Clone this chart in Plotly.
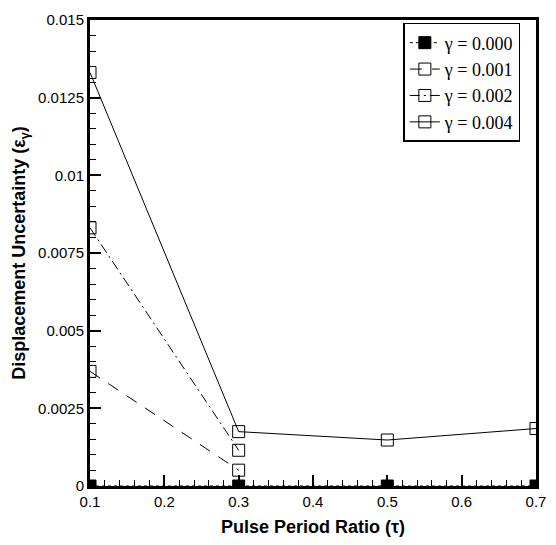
import plotly.graph_objects as go

# ---- data ----
tau = [0.1, 0.3, 0.5, 0.7]
eps_g0000 = [0.0, 0.0, 0.0, 0.0]
tau_g0001 = [0.1, 0.3]
eps_g0001 = [0.00369, 0.00051]
tau_g0002 = [0.1, 0.3]
eps_g0002 = [0.00831, 0.00115]
eps_g0004 = [0.01331, 0.00175, 0.00148, 0.00185]

legend_labels = ["γ = 0.000", "γ = 0.001", "γ = 0.002", "γ = 0.004"]

W, H = 556, 545
L, R, T, B = 90, 10, 20, 54
plot_w = W - L - R
plot_h = H - T - B

open_sq = dict(symbol="square-open", size=12, color="black", line=dict(width=1, color="black"))
fill_sq = dict(symbol="square", size=12, color="black", line=dict(width=1, color="black"))

series = [
    (tau, eps_g0000, "dot", fill_sq),
    (tau_g0001, eps_g0001, "12px,10px", open_sq),
    (tau_g0002, eps_g0002, "10px,4px,2px,4px", open_sq),
    (tau, eps_g0004, "solid", open_sq),
]

fig = go.Figure()
for (xs, ys, dash, mk), name in zip(series, legend_labels):
    fig.add_trace(go.Scatter(
        x=xs, y=ys, mode="lines+markers", name=name,
        line=dict(color="black", width=1, dash=dash),
        marker=mk,
    ))

fig.update_layout(
    width=W, height=H,
    margin=dict(l=L, r=R, t=T, b=B),
    paper_bgcolor="white", plot_bgcolor="white",
    font=dict(family="Liberation Sans, Arial, sans-serif", size=15, color="black"),
    showlegend=True,
    legend=dict(
        x=(530 - L) / plot_w, y=(H - B - 23) / plot_h, xanchor="right", yanchor="top",
        bgcolor="white", bordercolor="black", borderwidth=1.5,
        font=dict(family="Liberation Serif, Times New Roman, serif", size=18, color="black"),
        tracegroupgap=0,
    ),
    xaxis=dict(
        range=[0.1, 0.7], tick0=0.1, dtick=0.1,
        ticks="inside", ticklen=11, tickwidth=2, tickcolor="#000000",
        minor=dict(ticks="inside", ticklen=6, tickwidth=1, tickcolor="#000000", dtick=0.02),
        showline=True, linewidth=3, linecolor="black", mirror=True,
        showgrid=False, zeroline=False,
        title=dict(text="<b>Pulse Period Ratio (τ)</b>", font=dict(size=18), standoff=12),
    ),
    yaxis=dict(
        range=[0, 0.015], tick0=0, dtick=0.0025,
        ticks="inside", ticklen=11, tickwidth=2, tickcolor="#000000",
        minor=dict(ticks="inside", ticklen=6, tickwidth=1, tickcolor="#000000", dtick=0.0005),
        showline=True, linewidth=3, linecolor="black", mirror=True,
        showgrid=False, zeroline=False,
        title=dict(text="<b>Displacement Uncertainty (ε<sub>γ</sub>)</b>", font=dict(size=18), standoff=8),
    ),
)

fig.write_html("out.html")
